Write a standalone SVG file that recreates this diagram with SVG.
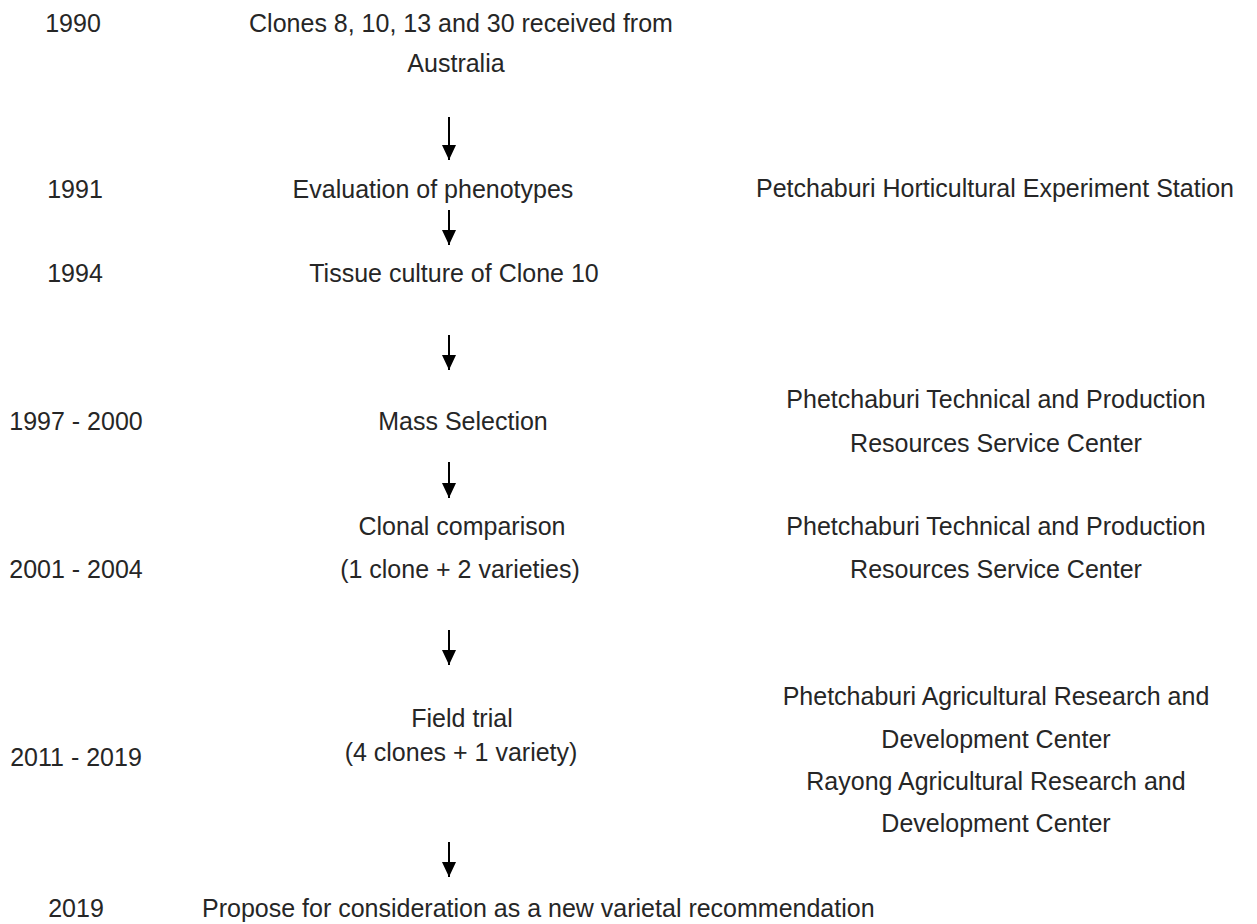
<svg xmlns="http://www.w3.org/2000/svg" width="1257" height="924" viewBox="0 0 1257 924">
<style>
text { font-family: "Liberation Sans", Arial, sans-serif; font-size: 25px; fill: #262626; text-anchor: middle; }
.start { text-anchor: start; }
.arrow { stroke: #000; stroke-width: 2; fill: none; marker-end: url(#ah); }
</style>
<defs>
<marker id="ah" markerUnits="userSpaceOnUse" markerWidth="15" markerHeight="14" viewBox="0 0 15 14" refX="15" refY="7" orient="auto">
<path d="M0,0 L15,7 L0,14 z" fill="#000"/>
</marker>
</defs>
<rect width="1257" height="924" fill="#fff"/>
<g id="row-1990">
<text x="73" y="32">1990</text>
<text x="461" y="32">Clones 8, 10, 13 and 30 received from</text>
<text x="456" y="72">Australia</text>
</g>
<g id="row-1991">
<text x="75" y="198">1991</text>
<text x="433" y="198">Evaluation of phenotypes</text>
<text x="995" y="197">Petchaburi Horticultural Experiment Station</text>
</g>
<g id="row-1994">
<text x="75" y="282">1994</text>
<text x="454" y="282">Tissue culture of Clone 10</text>
</g>
<g id="row-1997">
<text x="76" y="430">1997 - 2000</text>
<text x="463" y="430">Mass Selection</text>
<text x="996" y="408">Phetchaburi Technical and Production</text>
<text x="996" y="452">Resources Service Center</text>
</g>
<g id="row-2001">
<text x="76" y="578">2001 - 2004</text>
<text x="462" y="535">Clonal comparison</text>
<text x="460" y="578">(1 clone + 2 varieties)</text>
<text x="996" y="535">Phetchaburi Technical and Production</text>
<text x="996" y="578">Resources Service Center</text>
</g>
<g id="row-2011">
<text x="76" y="766">2011 - 2019</text>
<text x="462" y="727">Field trial</text>
<text x="461" y="761">(4 clones + 1 variety)</text>
<text x="996" y="705">Phetchaburi Agricultural Research and</text>
<text x="996" y="748">Development Center</text>
<text x="996" y="790">Rayong Agricultural Research and</text>
<text x="996" y="832">Development Center</text>
</g>
<g id="row-2019">
<text x="76" y="917">2019</text>
<text class="start" x="202" y="917">Propose for consideration as a new varietal recommendation</text>
</g>
<g id="connectors">
<line class="arrow" x1="449" y1="117" x2="449" y2="160"/>
<line class="arrow" x1="449" y1="210" x2="449" y2="245"/>
<line class="arrow" x1="449" y1="335" x2="449" y2="370"/>
<line class="arrow" x1="449" y1="462" x2="449" y2="498"/>
<line class="arrow" x1="449" y1="630" x2="449" y2="665"/>
<line class="arrow" x1="449" y1="842" x2="449" y2="877"/>
</g>
</svg>
